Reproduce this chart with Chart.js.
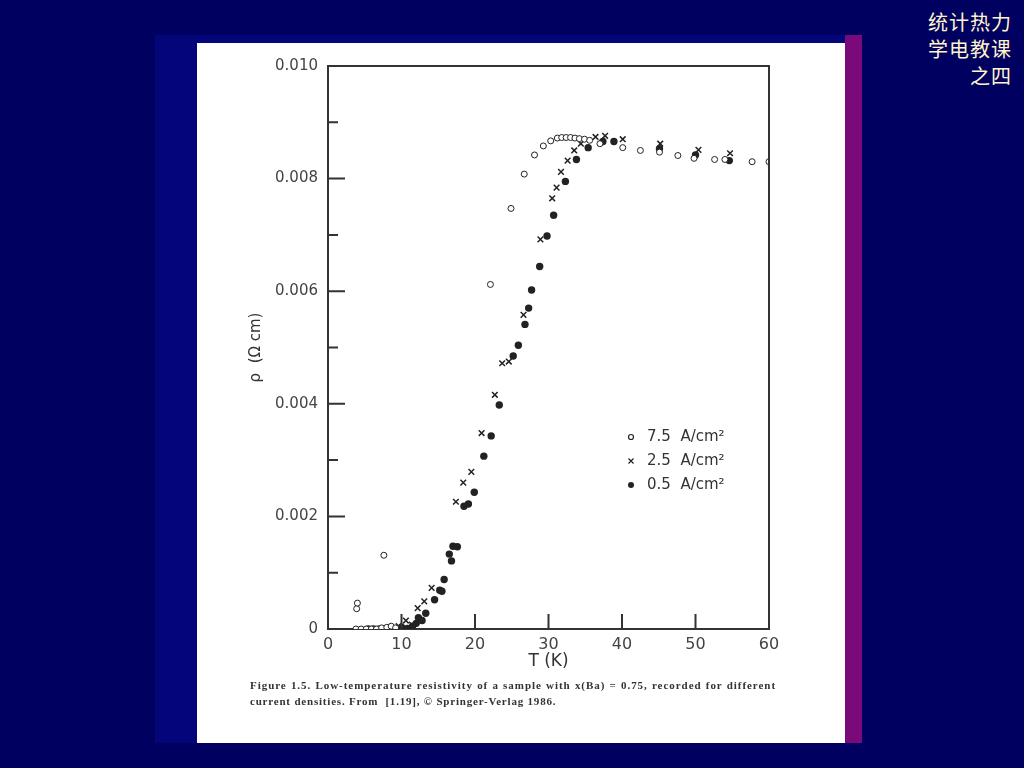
<!DOCTYPE html>
<html>
<head>
<meta charset="utf-8">
<script src="https://cdn.jsdelivr.net/npm/chart.js@4.4.1/dist/chart.umd.min.js"></script>
<style>
    body { margin: 0; width: 1024px; height: 768px; background: #000060; position: relative; overflow: hidden; }
    #frame { position: absolute; left: 155px; top: 35px; width: 707px; height: 708px; background: #05057a; }
    #panel { position: absolute; left: 197px; top: 43px; width: 648px; height: 700px; background: #fff; }
    #stripe { position: absolute; left: 845px; top: 35px; width: 17px; height: 708px; background: #7a0a7a; }
    #chartBox { position: absolute; left: 0; top: 0; width: 648px; height: 635px; }
    .cap { position: absolute; left: 53px; font: bold 11px "Liberation Serif", "DejaVu Serif", serif; color: #333; line-height: 16px; white-space: nowrap; }
    #cap1 { top: 634px; width: 526px; letter-spacing: 0.95px; text-align: justify; text-align-last: justify; white-space: normal; }
    #cap2 { top: 650px; letter-spacing: 0.8px; }
    #corner { position: absolute; right: 12px; top: 8px; font: 20px "Noto Sans CJK SC", sans-serif; color: #fff4cc; line-height: 27px; text-align: right; letter-spacing: 1px; }
</style>
</head>
<body>
<div id="frame"></div>
<div id="panel">
    <div id="chartBox"><canvas id="resistivityChart" width="648" height="635"></canvas></div>
    <div class="cap" id="cap1">Figure 1.5. Low-temperature resistivity of a sample with x(Ba) = 0.75, recorded for different</div>
    <div class="cap" id="cap2">current densities. From&nbsp; [1.19], © Springer-Verlag 1986.</div>
</div>
<div id="stripe"></div>
<div id="corner">统计热力<br>学电教课<br>之四</div>

<script>
// T (K) and rho (ohm cm), one pair of arrays per current density
const tempHigh = [3.8, 4.5, 5.2, 5.9, 6.6, 7.3, 8.0, 8.6, 9.2, 3.9, 4.0, 7.6, 22.1, 24.9, 26.7, 28.1, 29.3, 30.3,
    31.2, 31.8, 32.4, 33.0, 33.6, 34.2, 34.9, 35.6, 37.0, 40.1, 42.5, 45.1, 47.6, 49.8, 52.6, 54.0, 57.7, 60.0];
const rhoHigh = [0, 0, 0, 0, 0, 0.00002, 0.00003, 0.00005, 0.00002, 0.00036, 0.00046, 0.00131, 0.00612, 0.00747,
    0.00808, 0.00842, 0.00858, 0.00867, 0.00872, 0.00873, 0.00873, 0.00873, 0.00872, 0.00871, 0.0087, 0.00868,
    0.00862, 0.00855, 0.0085, 0.00847, 0.00841, 0.00836, 0.00834, 0.00834, 0.0083, 0.0083];

const tempMid = [9.6, 10.6, 11.4, 12.2, 13.1, 14.1, 17.4, 18.4, 19.5, 20.9, 22.7, 23.7, 24.6, 26.6, 28.9, 30.5,
    31.1, 31.7, 32.6, 33.5, 34.4, 36.4, 37.7, 40.1, 45.2, 50.4, 54.7];
const rhoMid = [0.00005, 0.00015, 0.00008, 0.00037, 0.00049, 0.00073, 0.00226, 0.0026, 0.00279, 0.00348, 0.00416,
    0.00472, 0.00475, 0.00558, 0.00692, 0.00765, 0.00784, 0.00812, 0.00832, 0.0085, 0.00862, 0.00874, 0.00876,
    0.0087, 0.00862, 0.00851, 0.00845];

const tempLow = [5.5, 6.2, 7.0, 8.5, 9.3, 10.0, 10.8, 11.5, 12.0, 12.3, 12.8, 13.3, 14.5, 15.2, 15.5, 15.8, 16.5,
    16.8, 17.0, 17.6, 18.5, 19.1, 19.9, 21.2, 22.2, 23.3, 25.2, 25.9, 26.8, 27.3, 27.7, 28.8, 29.8, 30.7, 32.3,
    33.8, 35.4, 37.4, 38.9, 45.1, 50.0, 54.6];
const rhoLow = [0, 0, 0, 0.00001, 0, 0.00003, 0.00001, 0.00005, 0.0001, 0.0002, 0.00015, 0.00028, 0.00052, 0.00069,
    0.00067, 0.00088, 0.00133, 0.00121, 0.00147, 0.00146, 0.00218, 0.00222, 0.00243, 0.00307, 0.00343, 0.00398,
    0.00485, 0.00504, 0.00541, 0.0057, 0.00602, 0.00644, 0.00698, 0.00735, 0.00795, 0.00834, 0.00855, 0.00866,
    0.00866, 0.00853, 0.00842, 0.00832];

const legendLabels = ["7.5  A/cm²", "2.5  A/cm²", "0.5  A/cm²"];
const xTicks = [0, 10, 20, 30, 40, 50, 60];

const ink = "#222";
const toPoints = (xs, ys) => xs.map((x, i) => ({ x, y: ys[i] }));

// box, inward ticks and the little legend inside the plot
const framePlugin = {
    id: "frame",
    afterDraw(chart) {
        const { ctx, chartArea: a, scales: { x, y } } = chart;
        ctx.save();
        ctx.strokeStyle = "#333";
        ctx.lineWidth = 2;
        ctx.beginPath();
        ctx.moveTo(a.left, a.top); ctx.lineTo(a.right, a.top); ctx.lineTo(a.right, a.bottom);
        for (let i = 1; i < 10; i++) {
            const py = y.getPixelForValue(i / 1000);
            ctx.moveTo(a.left, py); ctx.lineTo(a.left + (i % 2 === 0 ? 17 : 10), py);
        }
        xTicks.slice(1, -1).forEach((v) => {
            const px = x.getPixelForValue(v);
            ctx.moveTo(px, a.bottom); ctx.lineTo(px, a.bottom - 15);
        });
        ctx.stroke();

        // legend
        ctx.font = "15px 'DejaVu Sans'";
        ctx.fillStyle = "#333";
        ctx.textBaseline = "middle";
        const lx = 434, ly = 394;
        chart.data.datasets.forEach((ds, i) => {
            const cy = ly + i * 24;
            ctx.strokeStyle = ink;
            ctx.lineWidth = 1.2;
            ctx.beginPath();
            if (i === 0) { ctx.arc(lx, cy, 2.5, 0, Math.PI * 2); ctx.stroke(); }
            else if (i === 1) { ctx.moveTo(lx - 2.5, cy - 2.5); ctx.lineTo(lx + 2.5, cy + 2.5); ctx.moveTo(lx + 2.5, cy - 2.5); ctx.lineTo(lx - 2.5, cy + 2.5); ctx.stroke(); }
            else { ctx.arc(lx, cy, 3, 0, Math.PI * 2); ctx.fillStyle = ink; ctx.fill(); ctx.fillStyle = "#333"; }
            ctx.fillText(legendLabels[i], lx + 16, cy);
        });
        ctx.restore();
    },
};

new Chart(document.getElementById("resistivityChart"), {
    type: "scatter",
    data: {
        datasets: [
            { label: legendLabels[0], data: toPoints(tempHigh, rhoHigh), pointStyle: "circle", pointRadius: 3,
              backgroundColor: "#fff", borderColor: ink, borderWidth: 1 },
            { label: legendLabels[1], data: toPoints(tempMid, rhoMid), pointStyle: "crossRot", pointRadius: 4,
              borderColor: ink, borderWidth: 1.5 },
            { label: legendLabels[2], data: toPoints(tempLow, rhoLow), pointStyle: "circle", pointRadius: 3.7,
              backgroundColor: ink, borderColor: ink, borderWidth: 0 },
        ],
    },
    options: {
        responsive: false,
        animation: false,
        layout: { padding: { top: 23, right: 76, left: 0, bottom: 0 } },
        plugins: { legend: { display: false }, tooltip: { enabled: false } },
        scales: {
            x: {
                type: "linear", min: 0, max: 60,
                afterFit: (s) => { s.height = 49; },
                afterBuildTicks: (s) => { s.ticks = xTicks.map((v) => ({ value: v })); },
                grid: { display: false, drawTicks: false },
                border: { display: true, color: "#333", width: 2 },
                ticks: { padding: 6, color: "#444", font: { family: "DejaVu Sans", size: 16 } },
                title: { display: true, text: "T (K)", color: "#333", padding: { top: 0, bottom: 6 },
                         font: { family: "DejaVu Sans", size: 17 } },
            },
            y: {
                min: 0, max: 0.01,
                afterFit: (s) => { s.width = 131; },
                grid: { display: false, drawTicks: false },
                border: { display: true, color: "#333", width: 2 },
                ticks: {
                    stepSize: 0.002, padding: 10, color: "#444", font: { family: "DejaVu Sans", size: 15 },
                    callback: (v) => (Math.round(v * 1000) === 0 ? "0" : v.toFixed(3)),
                },
                title: { display: true, text: "ρ  (Ω cm)", color: "#333", padding: { top: 50, bottom: 0 },
                         font: { family: "DejaVu Sans", size: 15 } },
            },
        },
    },
    plugins: [framePlugin],
});
</script>
</body>
</html>
